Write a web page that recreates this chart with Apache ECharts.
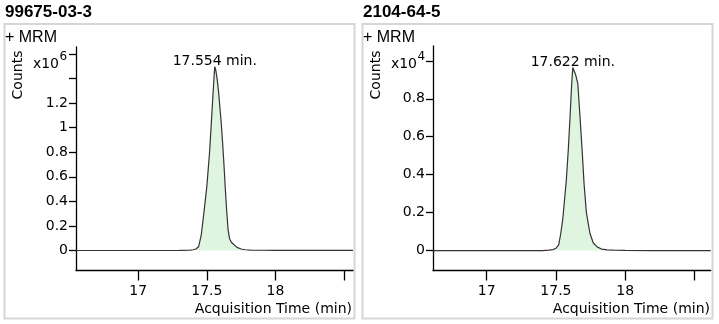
<!DOCTYPE html>
<html>
<head>
<meta charset="utf-8">
<script src="https://cdn.jsdelivr.net/npm/echarts@6/dist/echarts.min.js"></script>
<style>
html,body{margin:0;padding:0;background:#fff;}
#chart{width:719px;height:324px;}
</style>
</head>
<body>
<div id="chart"></div>
<script>
// ---- Data ----
const titles = ['99675-03-3', '2104-64-5'];
const peakLabels = ['17.554 min.', '17.622 min.'];
const scaleExp = [6, 4];

// Panel A: 99675-03-3 (counts)
const timeA = [16.546, 16.8, 17.0, 17.2, 17.3, 17.38, 17.40, 17.42, 17.44, 17.46, 17.48, 17.50, 17.52, 17.535, 17.545, 17.552, 17.558, 17.565, 17.575, 17.585, 17.595, 17.605, 17.615, 17.625, 17.635, 17.645, 17.655, 17.665, 17.68, 17.692, 17.72, 17.75, 17.78, 17.82, 17.9, 18.0, 18.2, 18.4, 18.566];
const countsA = [0, 0, 0, 0, 1000, 3000, 6000, 12000, 30000, 130000, 320000, 520000, 800000, 1080000, 1270000, 1400000, 1497000, 1470000, 1400000, 1300000, 1170000, 1040000, 880000, 700000, 500000, 320000, 170000, 100000, 65000, 50000, 25000, 12000, 6000, 3000, 2000, 1500, 1000, 1000, 1000];
const fillRangeA = [17.42, 17.78];

// Panel B: 2104-64-5 (counts)
const timeB = [16.612, 16.8, 17.0, 17.2, 17.4, 17.45, 17.48, 17.50, 17.52, 17.535, 17.55, 17.565, 17.575, 17.59, 17.602, 17.614, 17.622, 17.632, 17.643, 17.658, 17.674, 17.69, 17.703, 17.72, 17.746, 17.77, 17.80, 17.83, 17.87, 17.92, 18.0, 18.2, 18.4, 18.618];
const countsB = [0, 0, 0, 0, 0, 20, 50, 120, 300, 900, 1700, 2900, 3700, 5400, 7050, 8800, 9650, 9550, 9250, 8800, 7050, 5200, 3540, 2000, 900, 400, 180, 80, 40, 20, 10, 0, 0, 0];
const fillRangeB = [17.50, 17.87];

// Axis ticks / labels
const xTicks = [17, 17.5, 18, 18.5];
const xLabels = [17, 17.5, 18];
const yTicksA = [0, 0.2, 0.4, 0.6, 0.8, 1.0, 1.2, 1.4, 1.6];
const yLabelsA = [0, 0.2, 0.4, 0.6, 0.8, 1.0, 1.2];
const yTicksB = [0, 0.2, 0.4, 0.6, 0.8, 1.0];
const yLabelsB = [0, 0.2, 0.4, 0.6, 0.8];
const xRangeA = [16.546, 18.566];
const xRangeB = [16.612, 18.618];
const yRangeA = [-0.163, 1.657];
const yRangeB = [-0.105, 1.078];

// ---- Build ----
const FONT = 'DejaVu Sans';
const pairs = (t, c) => t.map((x, i) => [x, c[i]]);
const sub = (t, c, r) => pairs(t, c).filter(p => p[0] >= r[0] - 1e-9 && p[0] <= r[1] + 1e-9);

function xAxisFor(gi, range) {
  return {
    type: 'value', gridIndex: gi, min: range[0], max: range[1],
    axisLine: {show: true, onZero: false, lineStyle: {color: '#000', width: 1.3}},
    axisTick: {show: true, length: 10, customValues: xTicks, lineStyle: {color: '#000', width: 1.3}},
    axisLabel: {show: true, customValues: xLabels, margin: 14, color: '#000', fontFamily: FONT, fontSize: 14,
      formatter: v => String(v)},
    splitLine: {show: false}
  };
}
function yAxisFor(gi, range, exp, ticks, labels) {
  const s = Math.pow(10, exp);
  return {
    type: 'value', gridIndex: gi, min: range[0] * s, max: range[1] * s,
    axisLine: {show: true, onZero: false, lineStyle: {color: '#000', width: 1.3}},
    axisTick: {show: true, length: 7, customValues: ticks.map(v => v * s), lineStyle: {color: '#000', width: 1.3}},
    axisLabel: {show: true, customValues: labels.map(v => v * s), margin: 8, color: '#000', fontFamily: FONT, fontSize: 14,
      padding: [6, 0, 0, 0],
      formatter: v => String(+(v / s).toFixed(1))},
    splitLine: {show: false}
  };
}
function traceSeries(idx, t, c, label) {
  return {
    type: 'line', xAxisIndex: idx, yAxisIndex: idx, data: pairs(t, c),
    showSymbol: false, symbol: 'none', z: 3,
    lineStyle: {color: '#333', width: 1.2},
    markPoint: {
      symbol: 'circle', symbolSize: 0,
      data: [{type: 'max'}],
      label: {show: true, position: 'inside', offset: [0, -5], color: '#000', fontFamily: FONT, fontSize: 14,
        formatter: () => label},
      itemStyle: {color: 'transparent'}
    }
  };
}
function fillSeries(idx, t, c, r) {
  return {
    type: 'line', xAxisIndex: idx, yAxisIndex: idx, data: sub(t, c, r),
    showSymbol: false, symbol: 'none', z: 2,
    lineStyle: {width: 0, opacity: 0},
    areaStyle: {color: '#e0f5e0', opacity: 1, origin: 0}
  };
}
function txt(x, y, text, extra) {
  return Object.assign({type: 'text', x: x, y: y, silent: true,
    style: Object.assign({text: text, fill: '#000', font: '14px "' + FONT + '"', textAlign: 'left', textVerticalAlign: 'middle'}, extra || {})});
}
function panelGraphics(ox, title, exp) {
  return [
    {type: 'rect', shape: {x: ox + 4.5, y: 24, width: 350, height: 294.5}, style: {fill: 'none', stroke: '#d6d6d6', lineWidth: 2}, silent: true, z: -1},
    txt(ox + 5, 12, title, {font: 'bold 17px "Liberation Sans"'}),
    txt(ox + 5, 38, '+ MRM', {font: '16px "Liberation Sans"'}),
    {type: 'text', x: ox + 18.5, y: 75, rotation: Math.PI / 2, silent: true,
      style: {text: 'Counts', fill: '#000', font: '14px "' + FONT + '"', textAlign: 'center', textVerticalAlign: 'middle'}},
    txt(ox + 59, 64.5, 'x10', {textAlign: 'right'}),
    txt(ox + 59.5, 57, String(exp), {font: '12px "' + FONT + '"'}),
  ];
}

const chart = echarts.init(document.getElementById('chart'), null, {renderer: 'canvas'});
chart.setOption({
  animation: false,
  backgroundColor: '#fff',
  grid: [
    {left: 76, right: 366, top: 47, bottom: 53.5, containLabel: false, outerBoundsMode: 'none'},
    {left: 433, right: 8.3, top: 46, bottom: 53.5, containLabel: false, outerBoundsMode: 'none'}
  ],
  xAxis: [xAxisFor(0, xRangeA), xAxisFor(1, xRangeB)],
  yAxis: [
    yAxisFor(0, yRangeA, scaleExp[0], yTicksA, yLabelsA),
    yAxisFor(1, yRangeB, scaleExp[1], yTicksB, yLabelsB)
  ],
  series: [
    fillSeries(0, timeA, countsA, fillRangeA),
    traceSeries(0, timeA, countsA, peakLabels[0]),
    fillSeries(1, timeB, countsB, fillRangeB),
    traceSeries(1, timeB, countsB, peakLabels[1])
  ],
  graphic: [].concat(
    panelGraphics(0, titles[0], scaleExp[0]),
    panelGraphics(358, titles[1], scaleExp[1]),
    [txt(352, 309, 'Acquisition Time (min)', {textAlign: 'right'}),
     txt(710, 309, 'Acquisition Time (min)', {textAlign: 'right'})]
  )
});
</script>
</body>
</html>
